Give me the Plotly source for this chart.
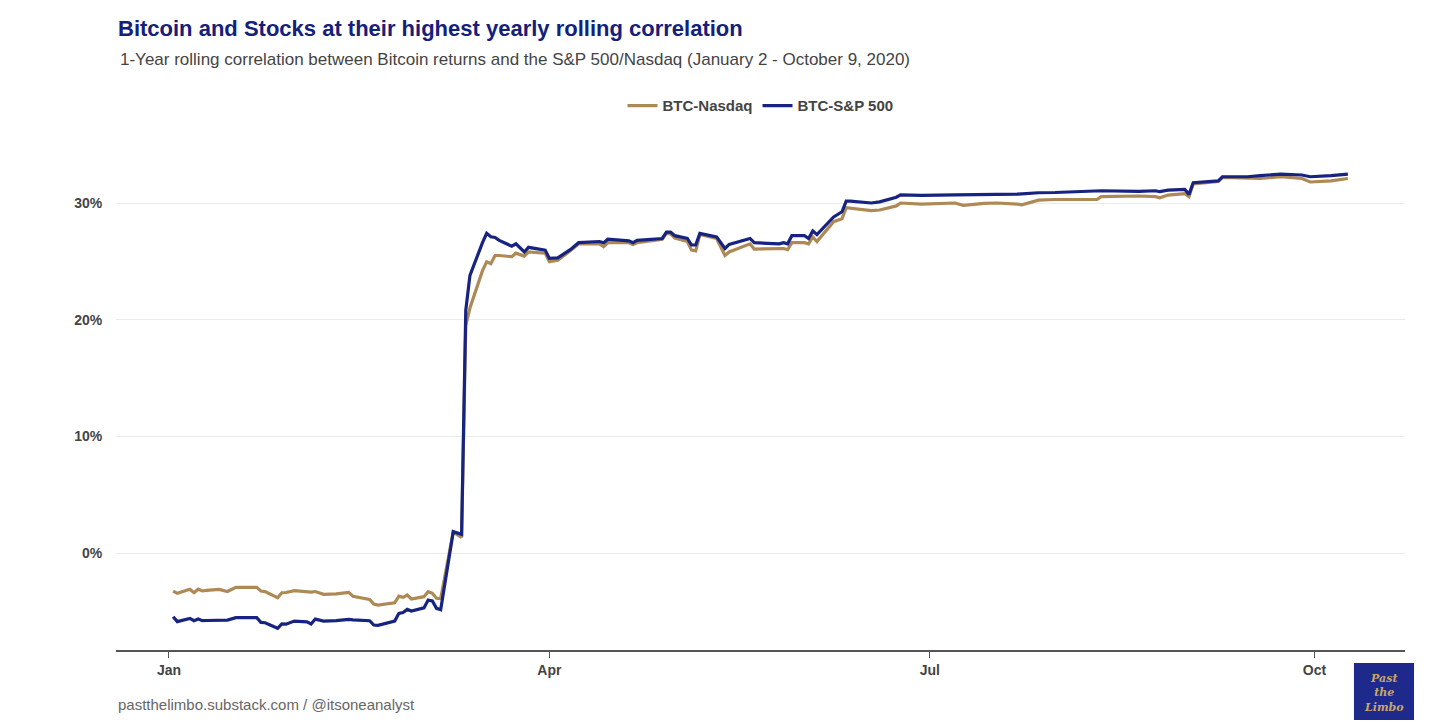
import plotly.graph_objects as go

dates = [
    "2020-01-02", "2020-01-03", "2020-01-06", "2020-01-07", "2020-01-08", "2020-01-09", "2020-01-10",
    "2020-01-13", "2020-01-15", "2020-01-17", "2020-01-22", "2020-01-23", "2020-01-24", "2020-01-27",
    "2020-01-28", "2020-01-29", "2020-01-31", "2020-02-03", "2020-02-04", "2020-02-05", "2020-02-06",
    "2020-02-07", "2020-02-10", "2020-02-13", "2020-02-14", "2020-02-18", "2020-02-19", "2020-02-20",
    "2020-02-24", "2020-02-25", "2020-02-26", "2020-02-27", "2020-02-28", "2020-03-02", "2020-03-03",
    "2020-03-04", "2020-03-05", "2020-03-06", "2020-03-09", "2020-03-11", "2020-03-12", "2020-03-13",
    "2020-03-16", "2020-03-17", "2020-03-18", "2020-03-19", "2020-03-20", "2020-03-23", "2020-03-24",
    "2020-03-26", "2020-03-27", "2020-03-31", "2020-04-01", "2020-04-03", "2020-04-06", "2020-04-08",
    "2020-04-13", "2020-04-14", "2020-04-15", "2020-04-20", "2020-04-21", "2020-04-22", "2020-04-28",
    "2020-04-29", "2020-04-30", "2020-05-01", "2020-05-04", "2020-05-05", "2020-05-06", "2020-05-07",
    "2020-05-11", "2020-05-13", "2020-05-14", "2020-05-19", "2020-05-20", "2020-05-26", "2020-05-27",
    "2020-05-28", "2020-05-29", "2020-06-01", "2020-06-02", "2020-06-03", "2020-06-04", "2020-06-08",
    "2020-06-10", "2020-06-11", "2020-06-12", "2020-06-15", "2020-06-17", "2020-06-19", "2020-06-22",
    "2020-06-23", "2020-06-24", "2020-06-29", "2020-07-07", "2020-07-09", "2020-07-14", "2020-07-17",
    "2020-07-22", "2020-07-23", "2020-07-27", "2020-07-31", "2020-08-10", "2020-08-11", "2020-08-20",
    "2020-08-24", "2020-08-25", "2020-08-27", "2020-08-31", "2020-09-01", "2020-09-02", "2020-09-08",
    "2020-09-09", "2020-09-15", "2020-09-18", "2020-09-23", "2020-09-28", "2020-09-30", "2020-10-05",
    "2020-10-09",
]

btc_nasdaq = [
    -3.26, -3.45, -3.10, -3.40, -3.10, -3.25, -3.20,
    -3.12, -3.30, -2.94, -2.94, -3.26, -3.30, -3.83,
    -3.40, -3.38, -3.23, -3.37, -3.35, -3.30, -3.45,
    -3.54, -3.50, -3.37, -3.70, -3.97, -4.37, -4.46,
    -4.26, -3.70, -3.80, -3.60, -3.94, -3.74, -3.31,
    -3.45, -3.88, -3.90, 1.80, 1.35, 19.5, 21.0,
    24.2, 24.96, 24.8, 25.5, 25.5, 25.4, 25.7,
    25.45, 25.8, 25.7, 24.96, 25.1, 25.9, 26.5,
    26.5, 26.25, 26.6, 26.6, 26.45, 26.6, 26.9,
    27.4, 27.35, 27.0, 26.7, 25.96, 25.9, 27.3,
    26.96, 25.5, 25.8, 26.5, 26.05, 26.1, 26.1,
    26.0, 26.6, 26.6, 26.5, 27.1, 26.7, 28.4,
    28.66, 29.6, 29.55, 29.4, 29.35, 29.4, 29.7,
    29.75, 30.0, 29.9, 30.0, 29.8, 29.96, 30.0,
    29.9, 29.85, 30.25, 30.3, 30.3, 30.55, 30.6,
    30.55, 30.45, 30.68, 30.8, 30.55, 31.64, 31.85,
    32.2, 32.1, 32.1, 32.25, 32.1, 31.8, 31.9,
    32.1,
]

btc_sp500 = [
    -5.46, -5.88, -5.60, -5.80, -5.66, -5.80, -5.78,
    -5.80, -5.75, -5.54, -5.54, -5.94, -5.97, -6.45,
    -6.08, -6.10, -5.83, -5.90, -6.08, -5.66, -5.72,
    -5.83, -5.80, -5.68, -5.72, -5.80, -6.17, -6.20,
    -5.83, -5.17, -5.10, -4.83, -4.97, -4.70, -4.03,
    -4.10, -4.74, -4.85, 1.83, 1.60, 20.8, 23.8,
    26.6, 27.4, 27.1, 27.05, 26.8, 26.3, 26.5,
    25.8, 26.2, 25.96, 25.25, 25.3, 26.0, 26.6,
    26.7, 26.6, 26.9, 26.76, 26.6, 26.8, 26.96,
    27.5, 27.5, 27.2, 26.96, 26.4, 26.4, 27.4,
    27.1, 26.1, 26.45, 26.96, 26.6, 26.5, 26.6,
    26.5, 27.2, 27.2, 26.96, 27.6, 27.3, 28.8,
    29.25, 30.16, 30.16, 30.05, 30.0, 30.1, 30.45,
    30.5, 30.7, 30.65, 30.7, 30.7, 30.75, 30.7,
    30.76, 30.78, 30.88, 30.9, 31.0, 31.05, 31.0,
    31.05, 30.97, 31.1, 31.17, 30.74, 31.74, 31.9,
    32.25, 32.25, 32.34, 32.48, 32.4, 32.25, 32.35,
    32.48,
]

series_names = ["BTC-Nasdaq", "BTC-S&P 500"]
y_tick_vals = [0, 10, 20, 30]
y_tick_text = ["0%", "10%", "20%", "30%"]
x_tick_vals = ["2020-01-01", "2020-04-01", "2020-07-01", "2020-10-01"]
x_tick_text = ["Jan", "Apr", "Jul", "Oct"]

GOLD = "#ad8a55"
NAVY = "#172380"
FONT = "Liberation Sans, Arial, sans-serif"

fig = go.Figure()
fig.add_trace(go.Scatter(x=dates, y=btc_nasdaq, mode="lines", name=series_names[0],
                         line=dict(color=GOLD, width=3.2)))
fig.add_trace(go.Scatter(x=dates, y=btc_sp500, mode="lines", name=series_names[1],
                         line=dict(color=NAVY, width=3.2)))

fig.update_layout(
    width=1440, height=712,
    margin=dict(l=108, r=43, t=132, b=70),
    paper_bgcolor="white", plot_bgcolor="white",
    font=dict(family=FONT, color="#444444"),
    showlegend=True,
    legend=dict(orientation="h", x=0.5, xanchor="center", y=1.067, yanchor="middle",
                font=dict(size=15, color="#444444", family=FONT, weight="bold"),
                itemwidth=30, bgcolor="rgba(0,0,0,0)"),
    xaxis=dict(type="date", range=["2019-12-19 08:00", "2020-10-22 16:00"],
               tickvals=x_tick_vals, ticktext=x_tick_text,
               showgrid=False, zeroline=False,
               showline=True, linecolor="#555555", linewidth=1.5,
               ticks="outside", ticklen=6, tickwidth=1, tickcolor="#555555",
               tickfont=dict(size=14, color="#444444", weight="bold")),
    yaxis=dict(range=[-8.31, 35.4], tickvals=y_tick_vals, ticktext=y_tick_text,
               showgrid=True, gridcolor="#ebebeb", gridwidth=1, zeroline=False,
               showline=False, ticks="outside", ticklen=10, tickcolor="rgba(0,0,0,0)",
               tickfont=dict(size=14, color="#444444", weight="bold")),
)

fig.add_annotation(text="<b>Bitcoin and Stocks at their highest yearly rolling correlation</b>",
                   xref="paper", yref="paper", x=0, y=1.2196, xanchor="left", yanchor="middle",
                   showarrow=False, font=dict(size=22, color="#14207a", family=FONT))
fig.add_annotation(text="1-Year rolling correlation between Bitcoin returns and the S&P 500/Nasdaq (January 2 - October 9, 2020)",
                   xref="paper", yref="paper", x=0.0016, y=1.1588, xanchor="left", yanchor="middle",
                   showarrow=False, font=dict(size=17, color="#444444", family=FONT))
fig.add_annotation(text="pastthelimbo.substack.com / @itsoneanalyst",
                   xref="paper", yref="paper", x=0, y=-0.1059, xanchor="left", yanchor="middle",
                   showarrow=False, font=dict(size=15, color="#666666", family=FONT))

# logo block
fig.add_shape(type="rect", xref="paper", yref="paper", x0=0.9604, x1=1.0070, y0=-0.1431, y1=-0.0255,
              fillcolor="#1d2a8c", line=dict(width=0))
fig.add_annotation(text="<i><b>Past<br>the<br>Limbo</b></i>", xref="paper", yref="paper",
                   x=0.9837, y=-0.0843, xanchor="center", yanchor="middle", showarrow=False,
                   font=dict(size=11, color="#c9a46a", family="DejaVu Serif"), align="center")

fig.write_html("out.html")
